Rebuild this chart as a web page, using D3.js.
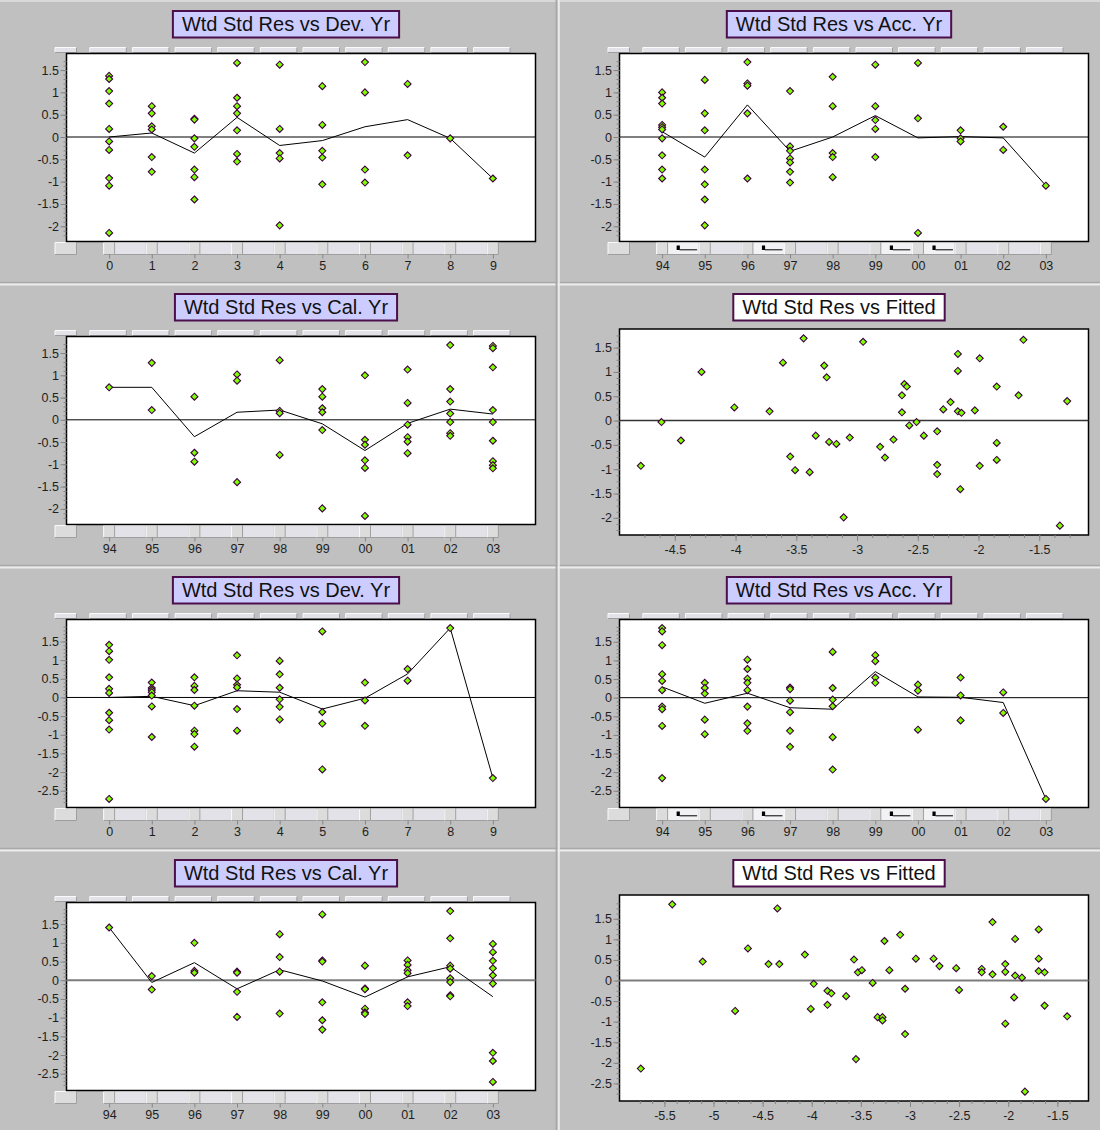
<!DOCTYPE html>
<html>
<head>
<meta charset="utf-8">
<script src="https://cdn.jsdelivr.net/npm/d3@7"></script>
<style>
  body { margin: 0; background: #c0c0c0; }
  svg { display: block; font-family: "Liberation Sans", Arial, sans-serif; }
</style>
</head>
<body>
<svg id="chart" width="1100" height="1130"></svg>
<script>
// ---- category labels ----
const devLabels  = ["0", "1", "2", "3", "4", "5", "6", "7", "8", "9"];
const yearLabels = ["94", "95", "96", "97", "98", "99", "00", "01", "02", "03"];
const accIconGaps = ["94", "96", "99", "00"];

// ---- model A residuals ----
const devResA = [
  [1.37, 1.30, 1.03, 0.75, 0.18, -0.10, -0.29, -0.92, -1.09, -2.15],
  [0.69, 0.53, 0.24, 0.17, -0.45, -0.78],
  [0.41, 0.39, -0.03, -0.22, -0.73, -0.90, -1.40],
  [1.66, 0.88, 0.69, 0.53, 0.15, -0.38, -0.55],
  [1.62, 0.18, -0.36, -0.48, -1.98],
  [1.14, 0.27, -0.31, -0.46, -1.06],
  [1.68, 1.00, -0.73, -1.02],
  [1.19, -0.41],
  [-0.03],
  [-0.93]
];
const devTrendA = [0.00, 0.09, -0.36, 0.44, -0.19, -0.08, 0.23, 0.39, -0.03, -0.93];

const accResA = [
  [1.00, 0.88, 0.75, 0.27, 0.22, 0.17, -0.03, -0.41, -0.73, -0.93],
  [1.28, 0.53, 0.15, -0.73, -1.06, -1.40, -1.98],
  [1.68, 1.20, 1.15, 0.53, -0.93],
  [1.03, -0.21, -0.31, -0.48, -0.57, -0.78, -1.02],
  [1.35, 0.69, -0.36, -0.45, -0.90],
  [1.62, 0.69, 0.38, 0.18, -0.45],
  [1.66, 0.42, -2.15],
  [0.15, -0.03, -0.10],
  [0.23, -0.29],
  [-1.09]
];
const accTrendA = [0.12, -0.45, 0.72, -0.32, 0.00, 0.48, -0.02, 0.01, -0.02, -1.09];

const calResA = [
  [0.73],
  [1.28, 0.22],
  [0.52, -0.74, -0.94],
  [1.02, 0.88, -1.40],
  [1.34, 0.20, 0.15, -0.79],
  [0.69, 0.52, 0.26, 0.17, -0.23, -1.99],
  [1.00, -0.45, -0.56, -0.91, -1.08, -2.16],
  [1.13, 0.38, -0.11, -0.39, -0.49, -0.75],
  [1.68, 0.69, 0.41, 0.14, -0.05, -0.30, -0.36],
  [1.66, 1.61, 1.18, 0.22, -0.05, -0.47, -0.93, -1.02, -1.09]
];
const calTrendA = [0.73, 0.73, -0.38, 0.17, 0.22, -0.09, -0.69, -0.08, 0.24, 0.13];

const fittedA = [-4.78, -4.61, -4.45, -4.28, -4.01, -3.72, -3.61, -3.55, -3.51, -3.44,
  -3.39, -3.34, -3.27, -3.25, -3.23, -3.17, -3.11, -3.06, -2.95, -2.81,
  -2.77, -2.70, -2.63, -2.63, -2.61, -2.59, -2.57, -2.51, -2.45, -2.34,
  -2.34, -2.34, -2.29, -2.23, -2.17, -2.17, -2.17, -2.14, -2.15, -2.03,
  -1.99, -1.99, -1.85, -1.85, -1.85, -1.67, -1.63, -1.33, -1.27];
const fitResA = [-0.93, -0.03, -0.41, 1.00, 0.27, 0.19, 1.19, -0.74, -1.02, 1.69,
  -1.06, -0.31, 1.13, 0.89, -0.44, -0.48, -1.99, -0.35, 1.62, -0.54,
  -0.76, -0.39, 0.17, 0.52, 0.75, 0.70, -0.10, -0.03, -0.31, -0.22,
  -0.91, -1.10, 0.23, 0.38, 1.37, 1.02, 0.19, 0.16, -1.41, 0.21,
  1.28, -0.93, 0.70, -0.46, -0.81, 0.52, 1.66, -2.16, 0.40];

// ---- model B residuals ----
const devResB = [
  [1.41, 1.24, 1.01, 0.54, 0.23, 0.12, -0.41, -0.61, -0.86, -2.72],
  [0.40, 0.25, 0.20, 0.14, 0.05, -0.24, -1.06],
  [0.54, 0.31, 0.20, -0.22, -0.89, -0.98, -1.32],
  [1.13, 0.51, 0.34, 0.27, -0.31, -0.89],
  [0.98, 0.62, 0.26, -0.05, -0.25, -0.59],
  [1.77, -0.39, -0.70, -1.93],
  [0.40, -0.08, -0.76],
  [0.76, 0.45],
  [1.86],
  [-2.16]
];
const devTrendB = [0.00, 0.03, -0.22, 0.18, 0.14, -0.31, -0.02, 0.63, 1.86, -2.16];

const accResB = [
  [1.87, 1.78, 1.41, 0.63, 0.45, 0.20, -0.24, -0.31, -0.76, -2.16],
  [0.40, 0.26, 0.11, -0.59, -0.98],
  [1.02, 0.77, 0.51, 0.40, 0.20, -0.24, -0.69, -0.89],
  [0.27, 0.23, -0.08, -0.39, -0.89, -1.32],
  [1.23, 0.26, -0.05, -0.23, -1.06, -1.93],
  [1.14, 0.98, 0.54, 0.40],
  [0.35, 0.19, -0.86],
  [0.54, 0.06, -0.61],
  [0.14, -0.41],
  [-2.72]
];
const accTrendB = [0.29, -0.15, 0.12, -0.27, -0.31, 0.70, 0.02, 0.01, -0.13, -2.72];

const calResB = [
  [1.41],
  [0.11, -0.25],
  [1.00, 0.25, 0.20],
  [0.23, 0.20, -0.31, -0.98],
  [1.23, 0.62, 0.23, -0.89],
  [1.76, 0.53, 0.50, -0.59, -1.07, -1.32],
  [0.39, -0.22, -0.24, -0.76, -0.86, -0.90],
  [0.53, 0.41, 0.27, 0.19, -0.59, -0.69],
  [1.85, 1.12, 0.39, 0.31, 0.05, -0.05, -0.40, -0.43],
  [0.97, 0.75, 0.52, 0.32, 0.13, -0.09, -1.94, -2.16, -2.72]
];
const calTrendB = [1.41, -0.06, 0.47, -0.23, 0.28, -0.02, -0.45, 0.09, 0.36, -0.44];

const fittedB = [-5.74, -5.42, -5.11, -4.78, -4.65, -4.44, -4.35, -4.33, -4.07, -4.01,
  -3.98, -3.84, -3.84, -3.80, -3.65, -3.57, -3.55, -3.53, -3.49, -3.38,
  -3.33, -3.28, -3.28, -3.26, -3.21, -3.10, -3.05, -3.05, -2.94, -2.76,
  -2.70, -2.53, -2.50, -2.27, -2.27, -2.16, -2.16, -2.03, -2.03, -2.03,
  -1.93, -1.93, -1.94, -1.86, -1.83, -1.69, -1.69, -1.69, -1.63, -1.63, -1.40];
const fitResB = [-2.14, 1.85, 0.46, -0.74, 0.78, 0.40, 1.75, 0.40, 0.63, -0.69,
  -0.08, -0.25, -0.59, -0.31, -0.38, 0.51, -1.91, 0.20, 0.25, -0.06,
  -0.89, -0.89, -0.97, 0.96, 0.25, 1.11, -0.20, -1.30, 0.53, 0.53,
  0.35, 0.30, -0.23, 0.28, 0.20, 1.42, 0.15, 0.40, 0.21, -1.05,
  1.01, 0.12, -0.41, 0.07, -2.70, 1.24, 0.53, 0.23, 0.20, -0.61, -0.87];

// ---- layout ----
const colX = [0, 553];
const rowY = [0, 283, 566, 849];
const L = 66.5, R = 535.5;
const CAT = { top: 53.5, bottom: 241.5 };
const FIT = { top: 46, bottom: 252 };
const LAV = "#ccccff", FRAME = "#4b0f4b";

const panels = [
  { col: 0, row: 0, type: "cat", title: "Wtd Std Res vs Dev. Yr", cats: devLabels, res: devResA, trend: devTrendA, zero: ["#000", 1] },
  { col: 1, row: 0, type: "cat", title: "Wtd Std Res vs Acc. Yr", cats: yearLabels, res: accResA, trend: accTrendA, icons: true, zero: ["#000", 1] },
  { col: 0, row: 1, type: "cat", title: "Wtd Std Res vs Cal. Yr", cats: yearLabels, res: calResA, trend: calTrendA, zero: ["#000", 1] },
  { col: 1, row: 1, type: "fit", title: "Wtd Std Res vs Fitted", fx: fittedA, fy: fitResA, zero: ["#333", 1.5] },
  { col: 0, row: 2, type: "cat", title: "Wtd Std Res vs Dev. Yr", cats: devLabels, res: devResB, trend: devTrendB, zero: ["#000", 1] },
  { col: 1, row: 2, type: "cat", title: "Wtd Std Res vs Acc. Yr", cats: yearLabels, res: accResB, trend: accTrendB, icons: true, zero: ["#000", 1] },
  { col: 0, row: 3, type: "cat", title: "Wtd Std Res vs Cal. Yr", cats: yearLabels, res: calResB, trend: calTrendB, zero: ["#7c7c7c", 2] },
  { col: 1, row: 3, type: "fit", title: "Wtd Std Res vs Fitted", fx: fittedB, fy: fitResB, zero: ["#7c7c7c", 2] }
];

const svg = d3.select("#chart");
svg.append("rect").attr("width", 1100).attr("height", 1130).attr("fill", "#c0c0c0");

// panel separators
const sep = svg.append("g");
rowY.slice(1).forEach(yy => {
  sep.append("line").attr("x1", 0).attr("x2", 1100).attr("y1", yy - 0.5).attr("y2", yy - 0.5)
    .attr("stroke", "#a9a9a9").attr("stroke-width", 1.5);
  sep.append("line").attr("x1", 0).attr("x2", 1100).attr("y1", yy + 1.5).attr("y2", yy + 1.5)
    .attr("stroke", "#ececec").attr("stroke-width", 2);
});
sep.append("line").attr("x1", 0).attr("x2", 1100).attr("y1", 1).attr("y2", 1)
  .attr("stroke", "#e2e2e2").attr("stroke-width", 1.5);
sep.append("line").attr("x1", 556.5).attr("x2", 556.5).attr("y1", 0).attr("y2", 1130)
  .attr("stroke", "#a9a9a9").attr("stroke-width", 2);
sep.append("line").attr("x1", 558.8).attr("x2", 558.8).attr("y1", 0).attr("y2", 1130)
  .attr("stroke", "#ececec").attr("stroke-width", 2);

const diamond = "M0,-3.5L3.5,0L0,3.5L-3.5,0Z";
const fmt = v => String(Math.round(v * 100) / 100);

function bevelBox(g, x, y, w, h, fill) {
  g.append("rect").attr("x", x).attr("y", y).attr("width", w).attr("height", h).attr("fill", fill);
  g.append("path").attr("d", `M${x},${y + h}V${y}H${x + w}`).attr("fill", "none")
    .attr("stroke", "#fafafa").attr("stroke-width", 1);
  g.append("path").attr("d", `M${x},${y + h}H${x + w}V${y}`).attr("fill", "none")
    .attr("stroke", "#9e9e9e").attr("stroke-width", 1);
}

function styleAxis(sel) {
  sel.select(".domain").remove();
  sel.selectAll(".tick line").attr("stroke", "#858585");
  sel.selectAll(".tick text").attr("fill", "#1e1e1e").attr("font-size", 12.5)
    .attr("font-family", '"Liberation Sans", Arial, sans-serif');
}

function yAxes(g, y, ext, minorStep) {
  const minors = d3.range(Math.ceil((ext[0] - 0.1) / minorStep), Math.floor((ext[1] + 0.1) / minorStep) + 1)
    .map(k => k * minorStep);
  const majors = d3.range(Math.ceil(ext[0] / 0.5), Math.floor(ext[1] / 0.5) + 1).map(k => k * 0.5);
  g.append("g").attr("transform", `translate(${L},0)`)
    .call(d3.axisLeft(y).tickValues(minors).tickSize(3).tickFormat(""))
    .call(styleAxis);
  g.append("g").attr("transform", `translate(${L},0)`)
    .call(d3.axisLeft(y).tickValues(majors).tickSize(6).tickPadding(1.5).tickFormat(fmt))
    .call(styleAxis);
}

function drawTitle(g, text, fill) {
  const t = g.append("text").attr("x", 286).attr("y", 31).attr("text-anchor", "middle")
    .attr("font-size", 20).attr("fill", "#111").text(text);
  const w = t.node().getComputedTextLength() + 18;
  g.insert("rect", "text").attr("x", 286 - w / 2).attr("y", 11).attr("width", w).attr("height", 26.5)
    .attr("fill", fill).attr("stroke", FRAME).attr("stroke-width", 2);
}

function drawCategoryPanel(g, p) {
  const n = p.cats.length;
  const x = d3.scaleLinear().domain([-1, n]).range([L, R]);
  const ext = d3.extent(p.res.flat());
  const pad = (ext[1] - ext[0]) * 0.05;
  const y = d3.scaleLinear().domain([ext[0] - pad, ext[1] + pad]).range([CAT.bottom, CAT.top]);

  drawTitle(g, p.title, LAV);

  // header strip above the plot
  const strip = g.append("g");
  bevelBox(strip, 55, 47.5, 21.5, 5, "#e2e2e8");
  d3.range(n).forEach(i => bevelBox(strip, x(i) - 19.3, 47.5, 36.5, 5, "#e2e2e8"));

  // button strip below the plot
  const foot = g.append("g");
  bevelBox(foot, 55, 242.5, 21.5, 12, "#dcdcdc");
  d3.range(n).forEach(i => {
    if (i < n - 1) {
      const lit = p.icons && accIconGaps.includes(p.cats[i]);
      bevelBox(foot, x(i) + 5.5, 242.5, x(i + 1) - x(i) - 11, 12, lit ? "#f2f2f4" : "#e2e2e8");
      if (lit) {
        foot.append("rect").attr("x", x(i) + 14.5).attr("y", 245.5).attr("width", 3.2).attr("height", 4.5).attr("fill", "#000");
        foot.append("line").attr("x1", x(i) + 17.5).attr("x2", x(i) + 35).attr("y1", 249.8).attr("y2", 249.8)
          .attr("stroke", "#000").attr("stroke-width", 1);
      }
    }
    bevelBox(foot, x(i) - 5.5, 242.5, 11, 12, "#dcdcdc");
  });

  // plot area
  g.append("rect").attr("x", L).attr("y", CAT.top).attr("width", R - L).attr("height", CAT.bottom - CAT.top)
    .attr("fill", "#fff").attr("stroke", "#000").attr("stroke-width", 1.5);

  yAxes(g, y, ext, 0.1);

  g.append("g").attr("transform", `translate(0,254.5)`)
    .call(d3.axisBottom(x).tickValues(d3.range(n)).tickSize(4).tickPadding(3).tickFormat(i => p.cats[i]))
    .call(styleAxis);

  g.append("line").attr("x1", L).attr("x2", R).attr("y1", y(0)).attr("y2", y(0))
    .attr("stroke", p.zero[0]).attr("stroke-width", p.zero[1]);

  g.append("path").datum(p.trend)
    .attr("d", d3.line().x((d, i) => x(i)).y(d => y(d)))
    .attr("fill", "none").attr("stroke", "#000").attr("stroke-width", 1);

  const pts = p.res.flatMap((vals, i) => vals.map(v => [i, v]));
  g.append("g").selectAll("path").data(pts).join("path")
    .attr("d", diamond).attr("transform", d => `translate(${x(d[0])},${y(d[1])})`)
    .attr("fill", "#80ff00").attr("stroke", "#3c003c").attr("stroke-width", 1.1);
}

function drawFittedPanel(g, p) {
  const xe = d3.extent(p.fx), ye = d3.extent(p.fy);
  const xp = (xe[1] - xe[0]) * 0.05, yp = (ye[1] - ye[0]) * 0.05;
  const x = d3.scaleLinear().domain([xe[0] - xp, xe[1] + xp]).range([L, R]);
  const y = d3.scaleLinear().domain([ye[0] - yp, ye[1] + yp]).range([FIT.bottom, FIT.top]);

  drawTitle(g, p.title, "#fff");

  g.append("rect").attr("x", L).attr("y", FIT.top).attr("width", R - L).attr("height", FIT.bottom - FIT.top)
    .attr("fill", "#fff").attr("stroke", "#000").attr("stroke-width", 1.5);

  yAxes(g, y, ye, 0.125);

  const step = 0.125;
  const xMinor = d3.range(Math.ceil((xe[0] - 0.05) / step), Math.floor((xe[1] + 0.05) / step) + 1).map(k => k * step);
  const xMajor = d3.range(Math.ceil(xe[0] / 0.5), Math.floor(xe[1] / 0.5) + 1).map(k => k * 0.5);
  g.append("g").attr("transform", `translate(0,${FIT.bottom})`)
    .call(d3.axisBottom(x).tickValues(xMinor).tickSize(3).tickFormat(""))
    .call(styleAxis);
  g.append("g").attr("transform", `translate(0,${FIT.bottom})`)
    .call(d3.axisBottom(x).tickValues(xMajor).tickSize(6).tickPadding(4).tickFormat(fmt))
    .call(styleAxis);

  g.append("line").attr("x1", L).attr("x2", R).attr("y1", y(0)).attr("y2", y(0))
    .attr("stroke", p.zero[0]).attr("stroke-width", p.zero[1]);

  const pts = p.fx.map((v, i) => [v, p.fy[i]]);
  g.append("g").selectAll("path").data(pts).join("path")
    .attr("d", diamond).attr("transform", d => `translate(${x(d[0])},${y(d[1])})`)
    .attr("fill", "#80ff00").attr("stroke", "#3c003c").attr("stroke-width", 1.1);
}

panels.forEach(p => {
  const g = svg.append("g").attr("transform", `translate(${colX[p.col]},${rowY[p.row]})`);
  if (p.type === "cat") drawCategoryPanel(g, p);
  else drawFittedPanel(g, p);
});
</script>
</body>
</html>
